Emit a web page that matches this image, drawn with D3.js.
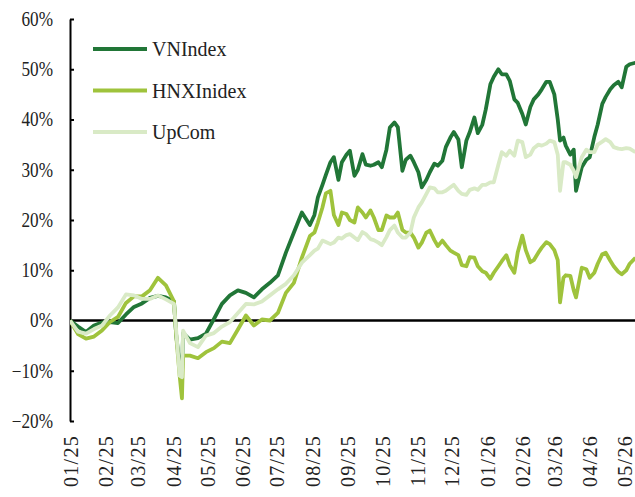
<!DOCTYPE html>
<html>
<head>
<meta charset="utf-8">
<script src="https://cdn.jsdelivr.net/npm/d3@7"></script>
<style>
  body { margin: 0; background: #fff; }
  svg { display: block; }
  .axis text { font-family: "Liberation Serif", serif; font-size: 20px; fill: #222; }
  .axis path, .axis line { stroke: #000; stroke-width: 2; }
  .legend text { font-family: "Liberation Serif", serif; font-size: 20px; fill: #222; }
</style>
</head>
<body>
<svg id="chart"></svg>
<script>
// weekly closes, twice a week from August, plus extra days around the big drops
const dates = [
  "2025-01-01","2025-01-08","2025-01-15","2025-01-22","2025-01-29","2025-02-05","2025-02-12","2025-02-19",
  "2025-02-26","2025-03-05","2025-03-12","2025-03-19","2025-03-26","2025-04-02","2025-04-04","2025-04-07",
  "2025-04-09","2025-04-10","2025-04-16","2025-04-23","2025-04-30","2025-05-07","2025-05-14","2025-05-21",
  "2025-05-28","2025-06-04","2025-06-11","2025-06-18","2025-06-25","2025-07-02","2025-07-09","2025-07-16",
  "2025-07-23",
  "2025-07-30","2025-08-03","2025-08-06","2025-08-10","2025-08-13","2025-08-17","2025-08-20","2025-08-24",
  "2025-08-27","2025-08-31","2025-09-03","2025-09-07","2025-09-10","2025-09-14","2025-09-17","2025-09-21",
  "2025-09-24","2025-09-28","2025-10-01","2025-10-05","2025-10-08","2025-10-12","2025-10-15","2025-10-19",
  "2025-10-22","2025-10-26","2025-10-29","2025-11-02","2025-11-05","2025-11-09","2025-11-12","2025-11-16",
  "2025-11-19","2025-11-23","2025-11-26","2025-11-30","2025-12-03","2025-12-07","2025-12-10","2025-12-14",
  "2025-12-17","2025-12-21","2025-12-24","2025-12-28","2025-12-31","2026-01-04","2026-01-07","2026-01-11",
  "2026-01-14","2026-01-18","2026-01-21","2026-01-25","2026-01-28","2026-02-01","2026-02-04","2026-02-08",
  "2026-02-11","2026-02-15","2026-02-18","2026-02-22","2026-02-25","2026-03-01",
  "2026-03-04","2026-03-06","2026-03-09","2026-03-11","2026-03-15","2026-03-18","2026-03-20","2026-03-25",
  "2026-03-29","2026-04-01","2026-04-05","2026-04-08","2026-04-12","2026-04-15","2026-04-19","2026-04-22",
  "2026-04-26","2026-04-29","2026-05-03","2026-05-06","2026-05-11"
];

// % change since start of 2025
const vnIndex = [
  0, -1.2, -2.3, -1.0, -0.4, -0.3, -0.5, 1.2,
  2.7, 3.4, 4.5, 4.9, 4.6, 3.8, -3, -9,
  -11, -2.5, -3.8, -3.5, -2.6, 0.3, 3.3, 5.0,
  6.0, 5.5, 4.6, 6.2, 7.5, 9.0, 13.5, 17.5,
  21.5,
  19, 21, 24.5, 27, 29, 31.5, 32.5, 28,
  31.5, 33, 33.8, 28.8, 30, 33.1, 31, 30.8,
  31, 31.5, 30.5, 34, 38.4, 39.4, 38.5, 29.8,
  32, 32.8, 31.5, 29.5, 26.5, 28, 29.5, 31.2,
  30.8, 31.8, 34.5, 36.4, 37.5, 36, 30.5, 35.8,
  37.5, 40.4, 37.3, 39, 42, 47, 48.5, 50,
  49, 49, 47.7, 44, 43.3, 41.1, 39, 42.5,
  44, 45, 46, 47.5, 47.5, 45,
  40, 35.8, 36.4, 34.8, 33, 34, 25.8, 30.5,
  32, 32.5, 36.5, 39, 43.1, 44.5, 46, 46.8,
  47.5, 46.4, 50.5, 51, 51.3
];

const hnxIndex = [
  0, -2.7, -3.6, -3.2, -2.0, -0.3, 0.7, 3.5,
  4.8, 4.8, 6, 8.5, 7.0, 3.8, -3, -11,
  -15.5, -7, -7, -7.5, -6.3, -5.5, -4.2, -4.5,
  -1.8, 1.0, -1.0, 0.2, 0, 1.5, 5.5, 7.5,
  12.5,
  16.8, 17.5, 19.5, 22.5, 25.3, 25.8, 21, 19,
  21.5, 21.2, 20, 19.5, 22.5, 21.5, 20.5, 21.9,
  20.5, 18, 18, 20.9, 20.5, 20.5, 21.5, 18,
  17.5, 17.5, 16.5, 14.5, 15.5, 17.5, 17.9, 16,
  14.8, 15.9, 15, 13.9, 13.5, 13, 11, 10.8,
  12.6, 12.5, 10.8, 9.8, 9.5, 8.3, 9.5, 10.8,
  11.8, 13, 11, 9.5, 13.6, 16.9, 14, 11.6,
  12, 13.5, 14.5, 15.6, 15.2, 14,
  12, 3.6, 8.5, 9, 8.9, 6, 4.6, 10.5,
  10.2, 8.5, 9.5, 11.3, 13.2, 13.5, 11.9, 10.8,
  9.7, 9.2, 10, 11.3, 12.5
];

const upCom = [
  0, -2.2, -2.6, -1.7, -1.0, 1.0, 2.6, 5.2,
  5.0, 4.3, 4.3, 5.0, 4.2, 3.3, -2, -11,
  -11.3, -2, -4.5, -5.3, -3, -2.5, -1.2, -0.3,
  1.5, 3.3, 3.2, 3.8, 5.0, 6.2, 7.3, 9,
  11.5,
  13, 13.9, 14.3, 15.9, 15.6, 15.2, 15.5, 16.5,
  16.3, 17, 17.2, 16.5, 16, 17.6, 17.2, 16.2,
  16, 15.5, 15, 16.6, 18, 18.9, 17.5, 16.5,
  16.5, 17.5, 20.5, 22.5, 23.5, 25.2, 26.5, 26.3,
  25.5, 25.5, 25.8, 26.5, 27, 25.8, 25.2, 25,
  26, 26.3, 26, 27, 27, 27.5, 27.5, 31,
  33.5, 32.8, 33.8, 32.8, 35.8, 35.5, 32.5, 33,
  34.3, 35, 34.8, 35.2, 35.8, 35.5,
  33, 25.8, 31.5, 31.5, 31, 29.8, 28.5, 32.5,
  34, 33.5, 33.5, 35, 35.6, 36.1, 35.5, 34.5,
  34.2, 34.1, 34.3, 34.2, 33.5
];

const seriesNames = ["VNIndex", "HNXInidex", "UpCom"];
const seriesColors = ["#217637", "#9fc33c", "#d9eac6"];
const yTicks = [-20, -10, 0, 10, 20, 30, 40, 50, 60];

const width = 635, height = 497;
const margin = { top: 19, bottom: 76, left: 70, right: 0 };

const svg = d3.select("#chart")
    .attr("width", width)
    .attr("height", height);

const parse = d3.utcParse("%Y-%m-%d");
const dateVals = dates.map(parse);

const x = d3.scaleUtc()
    .domain([parse("2025-01-01"), parse("2026-05-01")])
    .range([margin.left, 624]);

const y = d3.scaleLinear()
    .domain([-20, 60])
    .range([height - margin.bottom, margin.top]);

// y axis, ticks point inwards
const yAxis = d3.axisLeft(y)
    .tickValues(yTicks)
    .tickSizeInner(-4)
    .tickSizeOuter(0)
    .tickPadding(17)
    .tickFormat(d => (d < 0 ? "\u2212" : "") + Math.abs(d) + "%");

const yAxisG = svg.append("g")
    .attr("class", "axis y-axis")
    .attr("transform", `translate(${margin.left},0)`)
    .call(yAxis);

yAxisG.selectAll("text")
    .attr("x", -17 / 0.86)
    .attr("transform", "scale(0.86,1)");

// x axis labels only (rotated), no line
const months = d3.utcMonth.range(parse("2025-01-01"), parse("2026-05-02"));
const xAxis = d3.axisBottom(x)
    .tickValues(months)
    .tickSize(0)
    .tickFormat(d3.utcFormat("%m/%y"));

const xAxisG = svg.append("g")
    .attr("class", "axis x-axis")
    .attr("transform", `translate(0,${height - margin.bottom})`)
    .call(xAxis);

xAxisG.select(".domain").remove();
xAxisG.selectAll("text")
    .attr("transform", "rotate(-90)")
    .attr("x", -14)
    .attr("y", 0)
    .attr("dy", "0.36em")
    .style("text-anchor", "end")
    .style("letter-spacing", "1.3px");

// zero line
svg.append("line")
    .attr("x1", margin.left)
    .attr("x2", width)
    .attr("y1", y(0))
    .attr("y2", y(0))
    .attr("stroke", "#000")
    .attr("stroke-width", 2.5);

const series = [vnIndex, hnxIndex, upCom];
series.forEach((s, i) => {
  if (s.length !== dates.length) console.warn(seriesNames[i], s.length, dates.length);
});

const line = d3.line()
    .defined((d, i) => i < dateVals.length)
    .x((d, i) => x(dateVals[i]))
    .y(d => y(d));

svg.append("defs").append("clipPath")
    .attr("id", "plot-clip")
  .append("rect")
    .attr("x", margin.left)
    .attr("y", 0)
    .attr("width", width - margin.left)
    .attr("height", height);

svg.append("g")
    .attr("clip-path", "url(#plot-clip)")
  .selectAll(".series")
  .data(series)
  .join("path")
    .attr("class", "series")
    .attr("fill", "none")
    .attr("stroke", (d, i) => seriesColors[i])
    .attr("stroke-width", 3.8)
    .attr("stroke-linejoin", "round")
    .attr("d", line);

// legend
const legend = svg.append("g").attr("class", "legend");
const legendY = d3.scalePoint().domain(seriesNames).range([49, 132]);

legend.selectAll("line")
  .data(seriesNames)
  .join("line")
    .attr("x1", 93)
    .attr("x2", 147)
    .attr("y1", d => legendY(d))
    .attr("y2", d => legendY(d))
    .attr("stroke", (d, i) => seriesColors[i])
    .attr("stroke-width", 4);

legend.selectAll("text")
  .data(seriesNames)
  .join("text")
    .attr("x", 152)
    .attr("y", d => legendY(d))
    .attr("dy", "0.36em")
    .text(d => d);
</script>
</body>
</html>
